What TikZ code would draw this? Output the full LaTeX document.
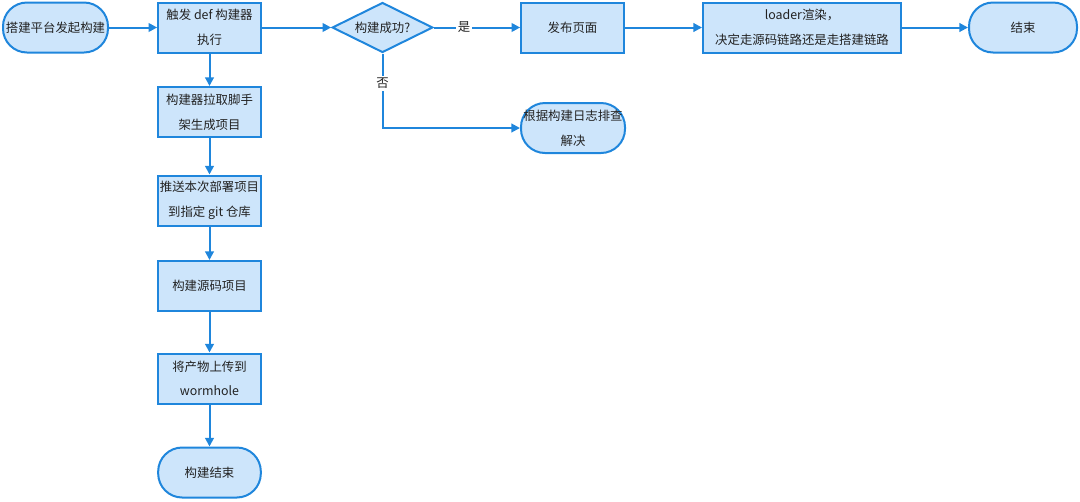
\documentclass[tikz,border=0pt]{standalone}
\usepackage{fontspec}
\setmainfont{Noto Sans CJK SC}
\usetikzlibrary{shapes.geometric,arrows.meta}
\definecolor{edgec}{HTML}{1F86DC}
\definecolor{fillc}{HTML}{CDE5FB}
\definecolor{txtc}{HTML}{222222}
\begin{document}
\begin{tikzpicture}[x=0.75pt,y=-0.75pt,
  box/.style={draw=edgec,fill=fillc,line width=1.5pt,minimum width=77pt,minimum height=37.5pt,inner sep=0pt,align=center,text=txtc,font=\fontsize{9.3}{18.5}\selectfont},
  pill/.style={box,rounded corners=18pt},
  decision/.style={box,diamond,shape aspect=2,minimum width=75.5pt,minimum height=37.5pt},
  arr/.style={draw=edgec,line width=1.5pt,-{Triangle[length=6.5pt,width=6.5pt]}},
  lbl/.style={fill=white,inner sep=1.5pt,text=txtc,font=\fontsize{9.3}{11}\selectfont}
]
\useasboundingbox (0,0) rectangle (1080,501);
\node[pill,minimum width=78.75pt] (start) at (55.5,27.5) {搭建平台发起构建};
\node[box] (trig) at (209.5,27.5) {触发 def 构建器\\执行};
\node[box] (pull) at (209.5,112) {构建器拉取脚手\\架生成项目};
\node[box] (push) at (209.5,200.5) {推送本次部署项目\\到指定 git 仓库};
\node[box] (src) at (209.5,286) {构建源码项目};
\node[box] (up) at (209.5,378.5) {将产物上传到\\wormhole};
\node[pill] (bend) at (209.5,472.5) {构建结束};
\node[decision] (dia) at (382.5,27.5) {构建成功?};
\node[box] (pub) at (572.5,27.5) {发布页面};
\node[pill,minimum width=78pt] (fix) at (573,128) {根据构建日志排查\\解决};
\node[box,minimum width=148.5pt] (load) at (802,27.5) {loader渲染，\\决定走源码链路还是走搭建链路};
\node[pill,minimum width=81pt] (fin) at (1023,27.5) {结束};
\draw[arr] (start) -- (trig);
\draw[arr] (trig) -- (dia);
\draw[arr] (trig) -- (pull);
\draw[arr] (pull) -- (push);
\draw[arr] (push) -- (src);
\draw[arr] (src) -- (up);
\draw[arr] (up) -- (bend);
\draw[arr] (dia) -- node[lbl,pos=0.35]{是} (pub);
\draw[arr] (dia.south) |- node[lbl,pos=0.2]{否} (fix.west);
\draw[arr] (pub) -- (load);
\draw[arr] (load) -- (fin);
\end{tikzpicture}
\end{document}
